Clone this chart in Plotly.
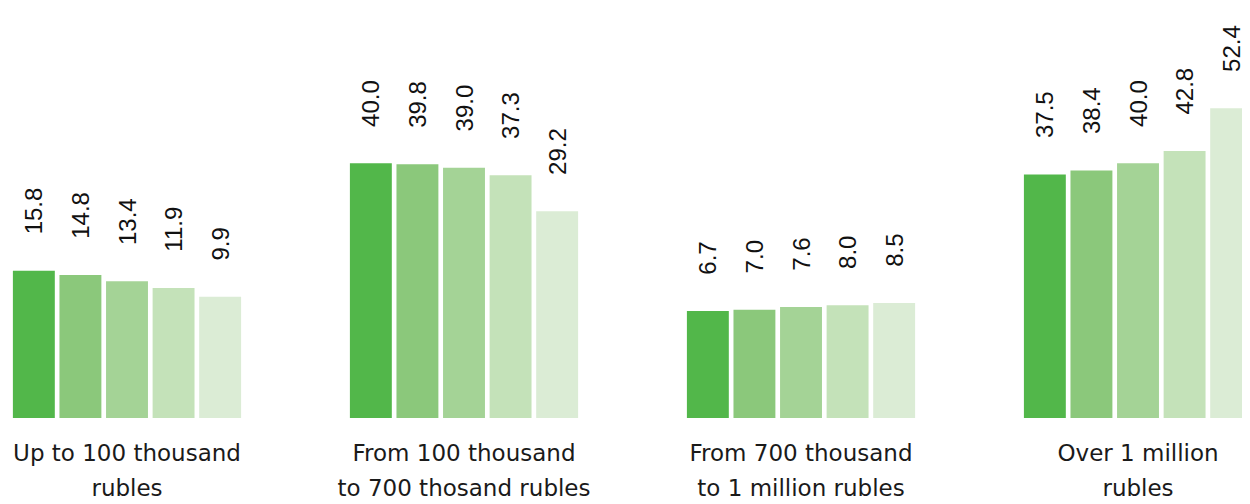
import plotly.graph_objects as go

categories = [
    "Up to 100 thousand rubles",
    "From 100 thousand to 700 thosand rubles",
    "From 700 thousand to 1 million rubles",
    "Over 1 million rubles",
]
label_line1 = ["Up to 100 thousand", "From 100 thousand", "From 700 thousand", "Over 1 million"]
label_line2 = ["rubles", "to 700 thosand rubles", "to 1 million rubles", "rubles"]

series_names = ["Series 1", "Series 2", "Series 3", "Series 4", "Series 5"]
series_values = [
    [15.8, 40.0, 6.7, 37.5],
    [14.8, 39.8, 7.0, 38.4],
    [13.4, 39.0, 7.6, 40.0],
    [11.9, 37.3, 8.0, 42.8],
    [9.9, 29.2, 8.5, 52.4],
]
colors = ["#52b74a", "#8bc87b", "#a4d396", "#c4e2b9", "#dbecd5"]

BASE = -17.4  # axis baseline value (bars start at the bottom of the plot)
PAD = "\u00a0" * 5
XRANGE = [-0.3531, 3.3323]

fig = go.Figure()
for name, vals, col in zip(series_names, series_values, colors):
    fig.add_trace(go.Bar(
        name=name,
        x=categories,
        y=[v - BASE for v in vals],
        base=BASE,
        customdata=vals,
        text=[PAD + f"{v:.1f}" for v in vals],
        textposition="outside",
        textangle=-90,
        constraintext="none",
        cliponaxis=False,
        textfont=dict(family="Liberation Sans, Arial", size=24, color="#111111"),
        marker=dict(color=col, line=dict(width=0)),
        hovertemplate="%{x}<br>%{customdata:.1f}<extra>" + name + "</extra>",
    ))

# invisible helper trace so that the second (label line 2) axis is drawn
fig.add_trace(go.Scatter(
    x=categories, y=[BASE] * len(categories), xaxis="x2", yaxis="y",
    mode="markers", marker=dict(opacity=0, size=1), hoverinfo="skip", showlegend=False,
))

tickfont = dict(family="DejaVu Sans", size=23, color="#1a1a1a")
fig.update_layout(
    width=1242, height=496,
    margin=dict(l=0, r=0, t=0, b=86),
    paper_bgcolor="white", plot_bgcolor="white",
    barmode="group", bargap=0.309, bargroupgap=0.1,
    showlegend=False,
    xaxis=dict(type="category", categoryarray=categories, range=XRANGE,
               showgrid=False, zeroline=False, showline=False,
               tickmode="array", tickvals=categories, ticktext=label_line1,
               ticks="outside", ticklen=14, tickcolor="rgba(0,0,0,0)",
               tickfont=tickfont),
    xaxis2=dict(type="category", categoryarray=categories, range=XRANGE,
                overlaying="x", side="bottom", anchor="y",
                showgrid=False, zeroline=False, showline=False,
                tickmode="array", tickvals=categories, ticktext=label_line2,
                ticks="outside", ticklen=49, tickcolor="rgba(0,0,0,0)",
                tickfont=tickfont),
    yaxis=dict(range=[BASE, 75.0], visible=False, showgrid=False, zeroline=False),
)

fig.write_html("out.html")
